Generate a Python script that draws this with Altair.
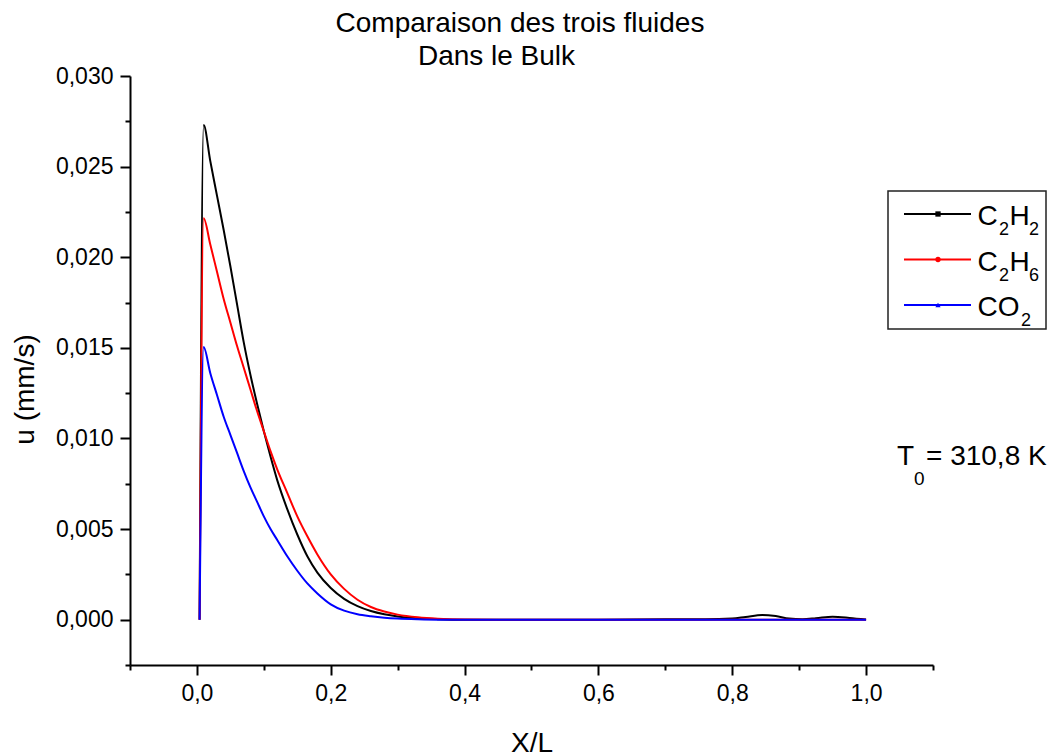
import altair as alt
import pandas as pd

# ---- data ----
X_C2H2 = [0.004, 0.010, 0.020, 0.030, 0.040, 0.050, 0.060, 0.070, 0.080, 0.090, 0.100, 0.110,
          0.120, 0.135, 0.150, 0.165, 0.180, 0.200, 0.220, 0.240, 0.260, 0.280, 0.300, 0.330,
          0.360, 0.400, 0.500, 0.600, 0.700, 0.760, 0.800, 0.820, 0.845, 0.865, 0.885, 0.905,
          0.925, 0.950, 0.975, 1.000]
U_C2H2 = [0.0, 0.0273, 0.0253, 0.0234, 0.0215, 0.0195, 0.0174, 0.0153, 0.0135, 0.0119, 0.0104, 0.0090,
          0.0077, 0.0061, 0.0047, 0.0035, 0.0026, 0.00175, 0.00115, 0.00075, 0.00048, 0.0003, 0.00018, 0.00008,
          0.00003, 0.0, 0.0, 0.0, 0.00002, 0.00002, 0.00006, 0.00015, 0.00026, 0.0002, 0.00006, 0.00003,
          0.00008, 0.00016, 0.0001, 0.00001]

X_C2H6 = [0.004, 0.010, 0.020, 0.030, 0.040, 0.050, 0.060, 0.070, 0.080, 0.090, 0.100, 0.110,
          0.120, 0.135, 0.150, 0.165, 0.180, 0.200, 0.220, 0.240, 0.260, 0.280, 0.300, 0.330,
          0.360, 0.400, 0.450, 0.600, 0.800, 1.000]
U_C2H6 = [0.0, 0.02215, 0.0207, 0.0192, 0.0177, 0.0164, 0.0151, 0.0139, 0.0127, 0.0115, 0.0104, 0.0093,
          0.0083, 0.0070, 0.0057, 0.0046, 0.0036, 0.0025, 0.0017, 0.0011, 0.0007, 0.00045, 0.00028, 0.00013,
          0.00005, 0.00001, 0.0, 0.0, 0.0, 0.0]

X_CO2 = [0.004, 0.010, 0.020, 0.030, 0.040, 0.050, 0.060, 0.070, 0.080, 0.090, 0.100, 0.110,
         0.120, 0.135, 0.150, 0.165, 0.180, 0.200, 0.220, 0.240, 0.260, 0.280, 0.300, 0.330,
         0.360, 0.600, 0.800, 1.000]
U_CO2 = [0.0, 0.01504, 0.0136, 0.0124, 0.0112, 0.0102, 0.0092, 0.0082, 0.0073, 0.0065, 0.0057, 0.0050,
         0.0044, 0.0035, 0.0027, 0.0020, 0.00145, 0.00085, 0.0005, 0.0003, 0.00019, 0.00011, 0.00006, 0.00002,
         0.0, 0.0, 0.0, 0.0]

SERIES = ["C2H2", "C2H6", "CO2"]
COLORS = ["#000000", "#ff0000", "#0000ff"]
X_TICKS = [-0.1, 0.0, 0.1, 0.2, 0.3, 0.4, 0.5, 0.6, 0.7, 0.8, 0.9, 1.0, 1.1]
Y_TICKS = [-0.0025, 0.0, 0.0025, 0.005, 0.0075, 0.01, 0.0125, 0.015, 0.0175, 0.02,
           0.0225, 0.025, 0.0275, 0.03]

rows = []
for name, xs, us in [("C2H2", X_C2H2, U_C2H2), ("C2H6", X_C2H6, U_C2H6), ("CO2", X_CO2, U_CO2)]:
    for i, (x, u) in enumerate(zip(xs, us)):
        rows.append({"series": name, "X": x, "u": u, "i": i})
df = pd.DataFrame(rows)

FONT = "Liberation Sans"
OX, OY = 130, 76          # plot origin in page pixels
W, H = 803, 589

x_enc = alt.X("X:Q", scale=alt.Scale(domain=[-0.1, 1.1], nice=False, zero=False),
              axis=alt.Axis(values=X_TICKS, title="X/L", grid=False,
                            labelExpr="abs(round(datum.value*10)) % 2 == 0 ? replace(format(datum.value, '.1f'), '.', ',') : ''",
                            tickSize={"condition": {"test": "abs(round(datum.value*10)) % 2 == 1", "value": 5}, "value": 10},
                            titleY=86, titleBaseline="alphabetic"))
y_enc = alt.Y("u:Q", scale=alt.Scale(domain=[-0.0025, 0.03], nice=False, zero=False),
              axis=alt.Axis(values=Y_TICKS, title="u (mm/s)", grid=False,
                            labelExpr="abs(round(datum.value*400)) % 2 == 0 ? replace(format(datum.value, '.3f'), '.', ',') : ''",
                            tickSize={"condition": {"test": "abs(round(datum.value*400)) % 2 == 1", "value": 5}, "value": 10},
                            titleX=33 - OX, titleY=389 - OY, titleBaseline="alphabetic", titleAngle=270))

layers = []
for name, col in zip(SERIES, COLORS):
    layers.append(
        alt.Chart(df).transform_filter(alt.datum.series == name).mark_line(
            color=col, strokeWidth=2, interpolate="monotone").encode(
            x=x_enc, y=y_enc, order="i:Q")
    )

one = pd.DataFrame({"k": [0]})

def txt(s, px, py, size=28, align="left"):
    return alt.Chart(one).mark_text(text=s, align=align, baseline="alphabetic", fontSize=size,
                                    font=FONT, color="black").encode(
        x=alt.value(px - OX), y=alt.value(py - OY))

# titles
layers.append(txt("Comparaison des trois fluides", 520, 32, align="center"))
layers.append(txt("Dans le Bulk", 496.5, 65, align="center"))

# legend box
layers.append(alt.Chart(one).mark_rect(filled=False, stroke="#222222", strokeWidth=1.5).encode(
    x=alt.value(888 - OX), x2=alt.value(1046 - OX), y=alt.value(191 - OY), y2=alt.value(329 - OY)))

legend_rows = [(214, "#000000", "square", [("C", 977.5, 0), ("2", 999, 1), ("H", 1009.5, 0), ("2", 1029, 1)]),
               (259.5, "#ff0000", "circle", [("C", 977.5, 0), ("2", 999, 1), ("H", 1009.5, 0), ("6", 1029, 1)]),
               (305, "#0000ff", "triangle-up", [("CO", 977.5, 0), ("2", 1021, 1)])]
for ly, col, shape, parts in legend_rows:
    layers.append(alt.Chart(one).mark_rule(color=col, strokeWidth=2).encode(
        x=alt.value(904 - OX), x2=alt.value(971 - OX), y=alt.value(ly - OY)))
    layers.append(alt.Chart(one).mark_point(shape=shape, filled=True, color=col, size=28, opacity=1).encode(
        x=alt.value(938 - OX), y=alt.value(ly - OY)))
    base = ly + 11
    for s, px, sub in parts:
        if sub:
            layers.append(txt(s, px, base + 10, size=18))
        else:
            layers.append(txt(s, px, base, size=28))

# T0 annotation
layers.append(txt("T", 897, 465, size=28))
layers.append(txt("0", 914, 485, size=19))
layers.append(txt("= 310,8 K", 926, 465, size=28))

chart = alt.layer(*layers).properties(
    width=W, height=H,
    autosize=alt.AutoSizeParams(type="none"),
    padding={"left": OX, "top": OY, "right": 1061 - OX - W, "bottom": 756 - OY - H},
    background="white",
).configure_view(stroke=None).configure_axis(
    domainColor="black", domainWidth=2, tickColor="black", tickWidth=2,
    labelFont=FONT, labelFontSize=23, labelColor="black", labelPadding=7,
    labelFlush=False, labelOverlap=False,
    titleFont=FONT, titleFontSize=28, titleFontWeight="normal", titleColor="black",
)

chart.save("out.html", embed_options={"renderer": "svg", "actions": False})
